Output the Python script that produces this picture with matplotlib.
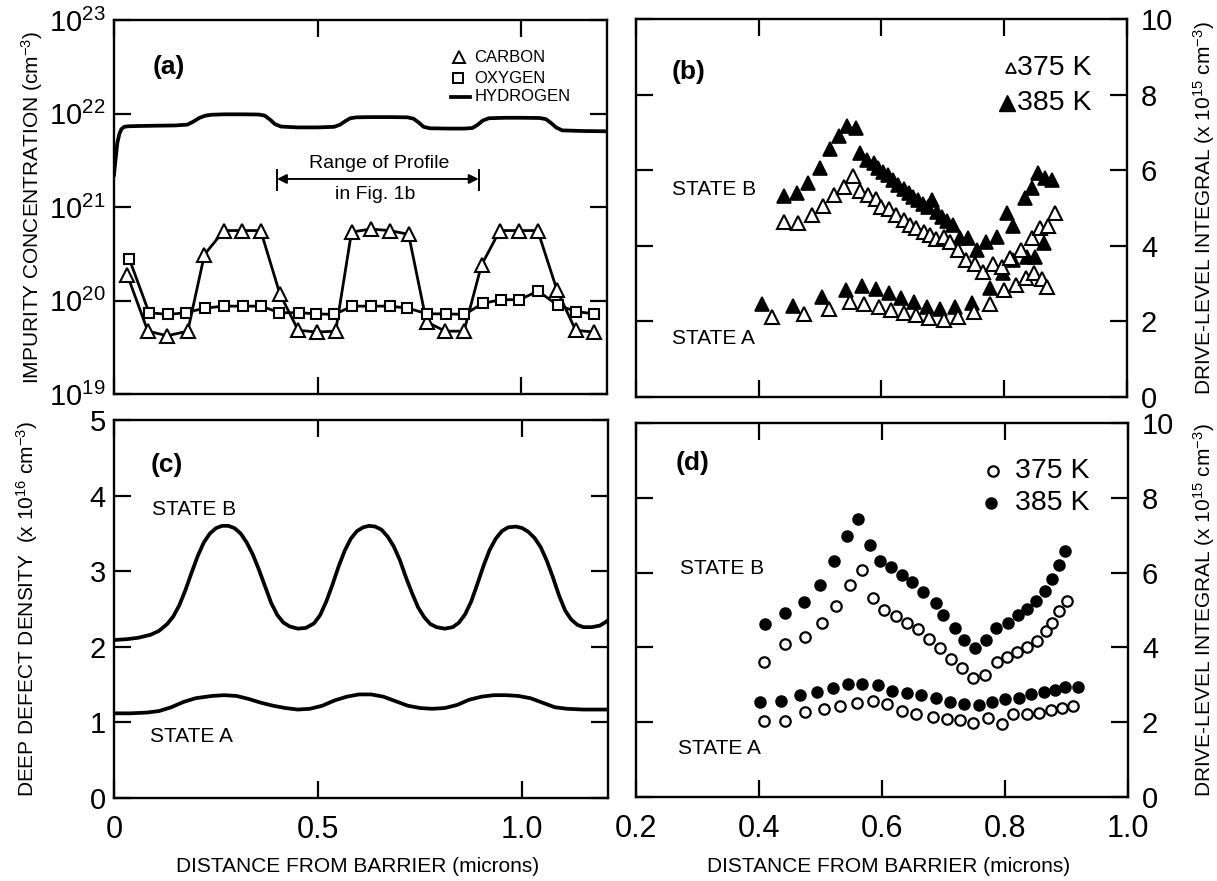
import numpy as np
import matplotlib
matplotlib.use("Agg")
import matplotlib.pyplot as plt

plt.rcParams['font.family'] = ['Liberation Sans', 'DejaVu Sans']
plt.rcParams['mathtext.fontset'] = 'custom'
plt.rcParams['mathtext.rm'] = 'Liberation Sans'
plt.rcParams['mathtext.it'] = 'Liberation Sans'
plt.rcParams['mathtext.default'] = 'regular'

# ---------------- Panel (a) data ----------------
carbon_x = [0.033, 0.083, 0.131, 0.181, 0.222, 0.270, 0.315, 0.360, 0.407, 0.452, 0.499, 0.544, 0.583,
            0.630, 0.677, 0.723, 0.767, 0.813, 0.859, 0.902, 0.947, 0.995, 1.040, 1.087, 1.133, 1.177]
carbon_y = [1.86e20, 4.7e19, 4.2e19, 4.7e19, 3.1e20, 5.6e20, 5.6e20, 5.6e20, 1.18e20, 4.8e19, 4.6e19, 4.7e19, 5.4e20,
            5.8e20, 5.6e20, 5.1e20, 5.9e19, 4.7e19, 4.7e19, 2.4e20, 5.6e20, 5.6e20, 5.6e20, 1.3e20, 4.8e19, 4.6e19]
oxygen_x = [0.038, 0.086, 0.133, 0.177, 0.223, 0.271, 0.317, 0.362, 0.406, 0.454, 0.497, 0.541, 0.585,
            0.631, 0.677, 0.720, 0.769, 0.815, 0.860, 0.905, 0.949, 0.995, 1.041, 1.089, 1.135, 1.179]
oxygen_y = [2.75e20, 7.4e19, 7.1e19, 7.4e19, 8.3e19, 8.7e19, 8.7e19, 8.7e19, 7.4e19, 7.4e19, 7.2e19, 7.1e19, 8.7e19,
            8.7e19, 8.7e19, 8.3e19, 7.2e19, 7.2e19, 7.1e19, 9.3e19, 1.02e20, 1.02e20, 1.26e20, 8.9e19, 7.6e19, 7.2e19]
hydrogen_x = [0.0, 0.004, 0.008, 0.013, 0.018, 0.025, 0.035, 0.06, 0.10, 0.15, 0.18, 0.195, 0.21, 0.225, 0.24,
              0.27, 0.32, 0.355, 0.37, 0.383, 0.395, 0.41, 0.45, 0.50, 0.54, 0.555, 0.568, 0.58, 0.595, 0.63,
              0.68, 0.72, 0.735, 0.748, 0.76, 0.775, 0.82, 0.86, 0.88, 0.893, 0.905, 0.92, 0.96, 1.00, 1.045,
              1.06, 1.073, 1.085, 1.10, 1.15, 1.21]
hydrogen_y_e21 = [2.2, 3.3, 4.8, 6.0, 6.8, 7.2, 7.3, 7.35, 7.4, 7.45, 7.6, 8.2, 9.0, 9.5, 9.7,
                  9.8, 9.8, 9.75, 9.5, 8.6, 7.7, 7.25, 7.1, 7.1, 7.2, 7.6, 8.3, 8.9, 9.1, 9.15,
                  9.15, 9.1, 8.8, 8.0, 7.2, 6.95, 6.9, 6.9, 7.0, 7.6, 8.4, 8.9, 9.0, 9.0, 8.95,
                  8.7, 7.9, 7.1, 6.6, 6.5, 6.45]

# ---------------- Panel (b) data ----------------
b385B_x = [0.441, 0.463, 0.481, 0.500, 0.516, 0.531, 0.544, 0.558, 0.565, 0.576, 0.587, 0.595, 0.603, 0.611,
           0.619, 0.627, 0.636, 0.644, 0.652, 0.660, 0.668, 0.676, 0.682, 0.690, 0.698, 0.706, 0.717, 0.728,
           0.741, 0.755, 0.771, 0.788, 0.804, 0.814, 0.834, 0.845, 0.855, 0.866, 0.877]
b385B_y = [5.32, 5.39, 5.67, 6.05, 6.55, 6.90, 7.17, 7.11, 6.45, 6.27, 6.18, 6.05, 5.96, 5.87,
           5.74, 5.61, 5.49, 5.39, 5.30, 5.21, 5.11, 5.03, 5.21, 4.90, 4.77, 4.66, 4.55, 4.20,
           4.20, 3.89, 4.11, 4.24, 4.86, 4.52, 5.26, 5.52, 5.92, 5.79, 5.74]
b385A_x = [0.406, 0.455, 0.503, 0.542, 0.568, 0.591, 0.612, 0.632, 0.653, 0.674, 0.695, 0.720, 0.748,
           0.777, 0.798, 0.815, 0.837, 0.850, 0.864]
b385A_y = [2.46, 2.42, 2.65, 2.84, 2.94, 2.86, 2.76, 2.61, 2.52, 2.39, 2.32, 2.37, 2.50,
           2.88, 3.27, 3.62, 3.71, 3.71, 4.07]
b375B_x = [0.441, 0.464, 0.486, 0.505, 0.523, 0.539, 0.554, 0.565, 0.578, 0.591, 0.600, 0.613, 0.624,
           0.636, 0.646, 0.657, 0.669, 0.679, 0.689, 0.702, 0.712, 0.725, 0.738, 0.752, 0.765, 0.781,
           0.796, 0.809, 0.828, 0.845, 0.858, 0.872, 0.883]
b375B_y = [4.64, 4.59, 4.81, 5.05, 5.34, 5.56, 5.85, 5.46, 5.34, 5.24, 5.03, 4.97, 4.81,
           4.68, 4.55, 4.46, 4.37, 4.29, 4.17, 4.24, 4.11, 3.89, 3.62, 3.52, 3.31, 3.52,
           3.45, 3.67, 3.89, 4.20, 4.46, 4.52, 4.88]
b375A_x = [0.421, 0.473, 0.515, 0.548, 0.571, 0.596, 0.615, 0.636, 0.657, 0.678, 0.702, 0.724, 0.751,
           0.777, 0.800, 0.819, 0.835, 0.849, 0.861, 0.869]
b375A_y = [2.12, 2.19, 2.33, 2.52, 2.46, 2.39, 2.30, 2.23, 2.17, 2.08, 2.05, 2.12, 2.26,
           2.46, 2.83, 2.96, 3.14, 3.27, 3.11, 2.92]

# ---------------- Panel (c) data ----------------
cB_x = [0.00, 0.03, 0.06, 0.09, 0.11, 0.13, 0.145, 0.16, 0.175, 0.19, 0.205, 0.22, 0.235, 0.25, 0.265,
        0.28, 0.295, 0.31, 0.325, 0.34, 0.355, 0.37, 0.385, 0.40, 0.415, 0.43, 0.45, 0.47, 0.49, 0.505,
        0.52, 0.535, 0.55, 0.565, 0.58, 0.595, 0.61, 0.625, 0.64, 0.655, 0.67, 0.685, 0.70, 0.715, 0.73,
        0.745, 0.76, 0.775, 0.79, 0.81, 0.83, 0.845, 0.86, 0.875, 0.89, 0.905, 0.92, 0.935, 0.95, 0.965,
        0.985, 1.00, 1.015, 1.03, 1.045, 1.06, 1.075, 1.09, 1.105, 1.12, 1.135, 1.15, 1.17, 1.19, 1.205,
        1.214]
cB_y = [2.09, 2.10, 2.12, 2.16, 2.21, 2.30, 2.40, 2.55, 2.75, 2.98, 3.20, 3.38, 3.50, 3.57, 3.60,
        3.60, 3.57, 3.50, 3.38, 3.22, 3.02, 2.80, 2.58, 2.42, 2.32, 2.27, 2.24, 2.25, 2.31, 2.42,
        2.60, 2.82, 3.06, 3.27, 3.43, 3.53, 3.58, 3.60, 3.59, 3.55, 3.46, 3.33, 3.15, 2.92, 2.71,
        2.52, 2.39, 2.30, 2.26, 2.24, 2.26, 2.32, 2.43, 2.60, 2.83, 3.07, 3.28, 3.43, 3.53, 3.58,
        3.59, 3.57, 3.52, 3.44, 3.32, 3.14, 2.92, 2.68, 2.48, 2.36, 2.29, 2.26, 2.26, 2.28, 2.33,
        2.37]
cA_x = [0.0, 0.04, 0.08, 0.11, 0.14, 0.17, 0.20, 0.24, 0.27, 0.30, 0.33, 0.36, 0.39, 0.42, 0.45, 0.48,
        0.51, 0.54, 0.57, 0.60, 0.63, 0.66, 0.69, 0.72, 0.75, 0.78, 0.81, 0.84, 0.87, 0.90, 0.93, 0.96,
        0.99, 1.02, 1.05, 1.08, 1.11, 1.15, 1.215]
cA_y = [1.12, 1.12, 1.13, 1.15, 1.20, 1.27, 1.32, 1.35, 1.36, 1.35, 1.31, 1.26, 1.22, 1.19, 1.17, 1.18,
        1.22, 1.29, 1.34, 1.37, 1.37, 1.34, 1.28, 1.22, 1.19, 1.18, 1.19, 1.23, 1.30, 1.34, 1.36, 1.36,
        1.35, 1.32, 1.26, 1.20, 1.18, 1.17, 1.17]

# ---------------- Panel (d) data ----------------
d385B_x = [0.41, 0.443, 0.473, 0.50, 0.522, 0.543, 0.561, 0.58, 0.597, 0.614, 0.632, 0.649, 0.666, 0.687,
           0.70, 0.719, 0.734, 0.751, 0.769, 0.786, 0.805, 0.821, 0.835, 0.85, 0.865, 0.876, 0.887, 0.898]
d385B_y = [4.62, 4.93, 5.22, 5.68, 6.30, 6.97, 7.44, 6.74, 6.30, 6.16, 5.94, 5.74, 5.49, 5.18,
           4.87, 4.52, 4.19, 3.98, 4.20, 4.53, 4.66, 4.86, 5.04, 5.25, 5.52, 5.83, 6.21, 6.57]
d375B_x = [0.408, 0.443, 0.475, 0.503, 0.526, 0.548, 0.567, 0.585, 0.603, 0.623, 0.64, 0.658, 0.676, 0.695,
           0.713, 0.73, 0.748, 0.768, 0.787, 0.804, 0.819, 0.835, 0.852, 0.866, 0.876, 0.888, 0.901]
d375B_y = [3.61, 4.09, 4.28, 4.65, 5.10, 5.67, 6.07, 5.32, 4.99, 4.83, 4.65, 4.48, 4.22, 3.98,
           3.70, 3.45, 3.17, 3.26, 3.61, 3.74, 3.87, 4.02, 4.18, 4.44, 4.66, 4.96, 5.24]
d385A_x = [0.401, 0.435, 0.466, 0.494, 0.521, 0.545, 0.567, 0.594, 0.616, 0.64, 0.664, 0.688, 0.71, 0.734,
           0.757, 0.779, 0.80, 0.822, 0.843, 0.863, 0.881, 0.897, 0.919]
d385A_y = [2.53, 2.57, 2.74, 2.82, 2.92, 3.01, 3.01, 3.00, 2.84, 2.78, 2.72, 2.64, 2.55, 2.49,
           2.46, 2.55, 2.61, 2.65, 2.75, 2.80, 2.87, 2.93, 2.95]
d375A_x = [0.408, 0.442, 0.474, 0.505, 0.531, 0.559, 0.585, 0.608, 0.632, 0.656, 0.683, 0.706, 0.727, 0.748,
           0.773, 0.795, 0.813, 0.835, 0.856, 0.874, 0.892, 0.911]
d375A_y = [2.04, 2.04, 2.26, 2.35, 2.44, 2.51, 2.56, 2.48, 2.29, 2.22, 2.15, 2.08, 2.06, 1.99,
           2.10, 1.95, 2.22, 2.22, 2.25, 2.33, 2.39, 2.43]

# tick labels
a_yticks = [1e19, 1e20, 1e21, 1e22, 1e23]
a_yticklabels = ['10$^{19}$', '10$^{20}$', '10$^{21}$', '10$^{22}$', '10$^{23}$']
c_xticks = [0, 0.5, 1.0]
c_xticklabels = ['0', '0.5', '1.0']
c_yticks = [0, 1, 2, 3, 4, 5]
d_xticks = [0.2, 0.4, 0.6, 0.8, 1.0]
d_xticklabels = ['0.2', '0.4', '0.6', '0.8', '1.0']
d_yticks = [0, 2, 4, 6, 8, 10]

W, H = 1217, 881
fig = plt.figure(figsize=(W / 100, H / 100), dpi=100)


def rect(l, t, r, b):
    return [l / W, (H - b) / H, (r - l) / W, (b - t) / H]


axA = fig.add_axes(rect(114, 20, 607, 394))
axC = fig.add_axes(rect(114, 420, 608, 798))
axB = fig.add_axes(rect(636, 19, 1127, 397))
axD = fig.add_axes(rect(636, 423, 1128, 797))

YTICKFS = 21
XTICKFS = 22
for ax in (axA, axB, axC, axD):
    for s in ax.spines.values():
        s.set_linewidth(1.7)
    ax.tick_params(direction='in', length=12, width=1.6, top=True, right=True,
                   labelsize=YTICKFS, pad=8)

# ---- (a)
axA.set_yscale('log')
axA.set_xlim(0, 1.21)
axA.set_ylim(1e19, 1e23)
axA.plot(hydrogen_x, np.array(hydrogen_y_e21) * 1e21, color='black', lw=2.7)
axA.plot(carbon_x, carbon_y, color='black', lw=2.0, marker='^', ms=10, mfc='white', mec='black', mew=1.5)
axA.plot(oxygen_x, oxygen_y, color='black', lw=2.0, marker='s', ms=7, mfc='white', mec='black', mew=1.5)
axA.set_yticks(a_yticks)
axA.set_yticklabels(a_yticklabels)
axA.yaxis.set_minor_locator(matplotlib.ticker.NullLocator())
axA.set_xticks(c_xticks)
axA.tick_params(labelbottom=False, pad=6)
axA.text(0.094, 10 ** 22.5, '(a)', fontsize=19, fontweight='bold', va='center', ha='left')
# legend
axA.plot([0.699], [0.900], marker='^', ms=9, mfc='white', mec='black', mew=1.4, transform=axA.transAxes)
axA.plot([0.697], [0.844], marker='s', ms=6.5, mfc='white', mec='black', mew=1.4, transform=axA.transAxes)
axA.plot([0.683, 0.723], [0.795, 0.795], color='black', lw=2.7, transform=axA.transAxes)
axA.text(0.731, 0.900, 'CARBON', fontsize=12, va='center', transform=axA.transAxes)
axA.text(0.731, 0.844, 'OXYGEN', fontsize=12, va='center', transform=axA.transAxes)
axA.text(0.731, 0.795, 'HYDROGEN', fontsize=12, va='center', transform=axA.transAxes)
# range of profile annotation
rng_left, rng_right, rng_y = 0.40, 0.895, 10 ** 21.30
axA.annotate('', xy=(rng_left, rng_y), xytext=(rng_right, rng_y),
             arrowprops=dict(arrowstyle='<|-|>', lw=1.4, color='black', mutation_scale=14,
                             shrinkA=0, shrinkB=0))
for xv in (rng_left, rng_right):
    axA.plot([xv, xv], [10 ** 21.18, 10 ** 21.40], color='black', lw=1.4)
axA.text(0.65, 10 ** 21.47, 'Range of Profile', fontsize=14, ha='center', va='center')
axA.text(0.64, 10 ** 21.13, 'in Fig. 1b', fontsize=14, ha='center', va='center')

# ---- (c)
axC.set_xlim(0, 1.21)
axC.set_ylim(0, 5)
axC.plot(cB_x, cB_y, color='black', lw=2.7, solid_joinstyle='round')
axC.plot(cA_x, cA_y, color='black', lw=2.7, solid_joinstyle='round')
axC.set_xticks(c_xticks)
axC.set_xticklabels(c_xticklabels)
axC.set_yticks(c_yticks)
axC.tick_params(axis='y', pad=6)
axC.tick_params(axis='x', pad=12, labelsize=XTICKFS)
axC.text(0.089, 4.40, '(c)', fontsize=19, fontweight='bold', va='center', ha='left')
axC.text(0.092, 3.82, 'STATE B', fontsize=15, va='center', ha='left')
axC.text(0.089, 0.81, 'STATE A', fontsize=15, va='center', ha='left')

# ---- (b)
axB.set_xlim(0.2, 1.0)
axB.set_ylim(0, 10)
axB.plot(b385B_x, b385B_y, ls='none', marker='^', ms=10, mfc='black', mec='black', mew=1.2)
axB.plot(b385A_x, b385A_y, ls='none', marker='^', ms=10, mfc='black', mec='black', mew=1.2)
axB.plot(b375B_x, b375B_y, ls='none', marker='^', ms=10, mfc='white', mec='black', mew=1.5)
axB.plot(b375A_x, b375A_y, ls='none', marker='^', ms=10, mfc='white', mec='black', mew=1.5)
axB.set_xticks(d_xticks)
axB.set_yticks(d_yticks)
axB.tick_params(labelbottom=False, labelleft=False, labelright=True, pad=10)
axB.text(0.258, 8.61, '(b)', fontsize=19, fontweight='bold', va='center', ha='left')
axB.text(0.258, 5.48, 'STATE B', fontsize=15, va='center', ha='left')
axB.text(0.258, 1.55, 'STATE A', fontsize=15, va='center', ha='left')
axB.plot([0.811], [8.70], marker='^', ms=7, mfc='white', mec='black', mew=1.3)
axB.plot([0.804], [7.77], marker='^', ms=11, mfc='black', mec='black')
axB.text(0.821, 8.70, '375 K', fontsize=20.5, va='center', ha='left')
axB.text(0.821, 7.77, '385 K', fontsize=20.5, va='center', ha='left')

# ---- (d)
axD.set_xlim(0.2, 1.0)
axD.set_ylim(0, 10)
axD.plot(d385B_x, d385B_y, ls='none', marker='o', ms=8, mfc='black', mec='black')
axD.plot(d385A_x, d385A_y, ls='none', marker='o', ms=8, mfc='black', mec='black')
axD.plot(d375B_x, d375B_y, ls='none', marker='o', ms=7.5, mfc='white', mec='black', mew=1.6)
axD.plot(d375A_x, d375A_y, ls='none', marker='o', ms=7.5, mfc='white', mec='black', mew=1.6)
axD.set_xticks(d_xticks)
axD.set_xticklabels(d_xticklabels)
axD.set_yticks(d_yticks)
axD.tick_params(labelleft=False, labelright=True, pad=10)
axD.tick_params(axis='x', pad=12, labelsize=XTICKFS)
axD.text(0.265, 8.92, '(d)', fontsize=19, fontweight='bold', va='center', ha='left')
axD.text(0.271, 6.10, 'STATE B', fontsize=15, va='center', ha='left')
axD.text(0.268, 1.30, 'STATE A', fontsize=15, va='center', ha='left')
axD.plot([0.781], [8.72], marker='o', ms=7.5, mfc='white', mec='black', mew=1.6)
axD.plot([0.777], [7.85], marker='o', ms=8, mfc='black', mec='black')
axD.text(0.816, 8.72, '375 K', fontsize=20.5, va='center', ha='left')
axD.text(0.816, 7.85, '385 K', fontsize=20.5, va='center', ha='left')

# ---- axis labels
fig.text(32 / W, 1 - 207 / H, 'IMPURITY CONCENTRATION (cm$^{-3}$)', rotation=90,
         fontsize=15, ha='center', va='center')
fig.text(27 / W, 1 - 609 / H, 'DEEP DEFECT DENSITY  (x 10$^{16}$ cm$^{-3}$)', rotation=90,
         fontsize=15, ha='center', va='center')
fig.text(1204 / W, 1 - 208 / H, 'DRIVE-LEVEL INTEGRAL (x 10$^{15}$ cm$^{-3}$)', rotation=90,
         fontsize=15, ha='center', va='center')
fig.text(1204 / W, 1 - 610 / H, 'DRIVE-LEVEL INTEGRAL (x 10$^{15}$ cm$^{-3}$)', rotation=90,
         fontsize=15, ha='center', va='center')
fig.text(358 / W, 1 - 866 / H, 'DISTANCE FROM BARRIER (microns)', fontsize=15, ha='center', va='center')
fig.text(889 / W, 1 - 866 / H, 'DISTANCE FROM BARRIER (microns)', fontsize=15, ha='center', va='center')

fig.savefig('out.png', dpi=100)
